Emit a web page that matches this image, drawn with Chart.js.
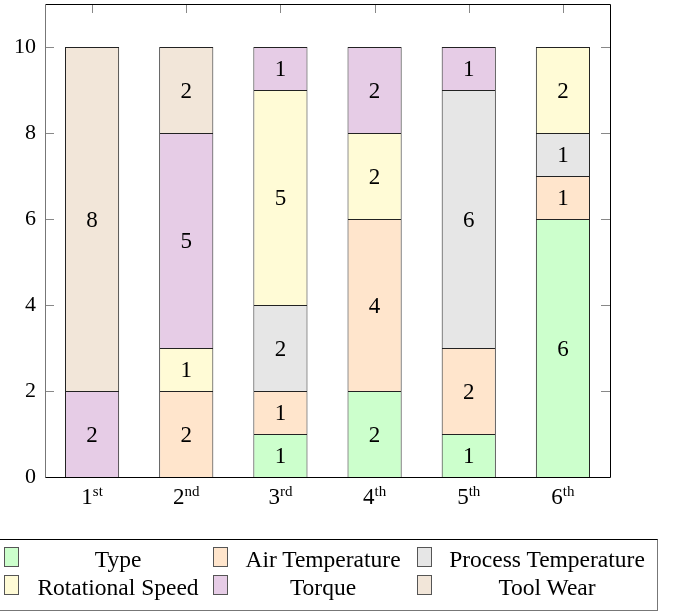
<!DOCTYPE html>
<html>
<head>
<meta charset="utf-8">
<script src="https://cdn.jsdelivr.net/npm/chart.js@4.4.0/dist/chart.umd.min.js"></script>
<style>
  body { margin: 0; background: #fff; }
  #wrap { position: relative; width: 678px; height: 612px; overflow: hidden; }
  #legend {
    position: absolute; left: -2px; top: 539px; width: 658px; height: 70px;
    border: 1px solid #000; border-right-color: #777; border-bottom-color: #777;
    font-family: 'Liberation Serif', serif; font-size: 23.5px; color: #000;
  }
  .sw { position: absolute; width: 13px; height: 18px; border: 1px solid #555; box-sizing: content-box; }
  .lb { position: absolute; line-height: 1; white-space: nowrap; transform: translateX(-50%); }
</style>
</head>
<body>
<div id="wrap">
  <canvas id="rankChart" width="678" height="612"></canvas>
  <div id="legend"></div>
</div>
<script>
// ranks of the features, counted over the 10 runs
const ranks = ['1st', '2nd', '3rd', '4th', '5th', '6th'];
const yTicks = [0, 2, 4, 6, 8, 10];

const typeCounts       = [null, null, 1, 2, 1, 6];
const airTempCounts    = [null, 2, 1, 4, 2, 1];
const processTempCounts= [null, null, 2, null, 6, 1];
const rotSpeedCounts   = [null, 1, 5, 2, null, 2];
const torqueCounts     = [2, 5, 1, 2, 1, null];
const toolWearCounts   = [8, 2, null, null, null, null];

const serif = "'Liberation Serif', serif";

function ds(label, data, color) {
    return {
        label: label,
        data: data,
        backgroundColor: color,
        borderColor: '#222',
        borderWidth: { top: 1, left: 1, right: 1, bottom: 0 },
        borderSkipped: false,
        barPercentage: 0.575,
        categoryPercentage: 1
    };
}

// numbers inside the bar segments
const segLabels = {
    id: 'segLabels',
    afterDatasetsDraw(chart) {
        const ctx = chart.ctx;
        ctx.save();
        ctx.font = '23px ' + serif;
        ctx.fillStyle = '#000';
        ctx.textAlign = 'center';
        ctx.textBaseline = 'alphabetic';
        chart.data.datasets.forEach((d, di) => {
            const meta = chart.getDatasetMeta(di);
            meta.data.forEach((el, i) => {
                const v = d.data[i];
                if (v === null) return;
                const yc = (el.y + el.base) / 2;
                ctx.fillText(String(v), el.x, yc + 7.8);
            });
        });
        ctx.restore();
    }
};

// inward ticks (drawn under the bars) + frame and x labels with superscripts
const frame = {
    id: 'frame',
    beforeDatasetsDraw(chart) {
        const { ctx, chartArea: a, scales } = chart;
        ctx.save();
        ctx.strokeStyle = '#888';
        ctx.lineWidth = 1;
        ctx.beginPath();
        yTicks.forEach(t => {
            const y = Math.round(scales.y.getPixelForValue(t)) + 0.5;
            ctx.moveTo(a.left, y); ctx.lineTo(a.left + 9, y);
            ctx.moveTo(a.right, y); ctx.lineTo(a.right - 9, y);
        });
        ranks.forEach((r, i) => {
            const x = Math.round(scales.x.getPixelForValue(i)) + 0.5;
            ctx.moveTo(x, a.top); ctx.lineTo(x, a.top + 9);
            ctx.moveTo(x, a.bottom); ctx.lineTo(x, a.bottom - 9);
        });
        ctx.stroke();
        ctx.restore();
    },
    afterDraw(chart) {
        const { ctx, chartArea: a, scales } = chart;
        const L = Math.round(a.left) + 0.5, R = Math.round(a.right) + 0.5;
        const T = Math.round(a.top) + 0.5, B = Math.round(a.bottom) + 0.5;
        ctx.save();
        ctx.lineWidth = 1;
        ctx.strokeStyle = '#000';
        ctx.beginPath();
        ctx.moveTo(L, T); ctx.lineTo(R, T); ctx.lineTo(R, B); ctx.lineTo(L, B);
        ctx.stroke();
        ctx.strokeStyle = '#777';
        ctx.beginPath();
        ctx.moveTo(L, T); ctx.lineTo(L, B);
        ctx.stroke();

        // x labels: digit + superscript suffix
        ctx.fillStyle = '#000';
        ctx.textBaseline = 'alphabetic';
        ctx.textAlign = 'left';
        ranks.forEach((r, i) => {
            const num = r.slice(0, 1), suf = r.slice(1);
            ctx.font = '23px ' + serif;
            const w1 = ctx.measureText(num).width;
            ctx.font = '15px ' + serif;
            const w2 = ctx.measureText(suf).width;
            const x0 = scales.x.getPixelForValue(i) - (w1 + w2) / 2;
            ctx.font = '23px ' + serif;
            ctx.fillText(num, x0, 504);
            ctx.font = '15px ' + serif;
            ctx.fillText(suf, x0 + w1, 496);
        });
        ctx.restore();
    }
};

const rankChart = new Chart('rankChart', {
    type: 'bar',
    data: {
        labels: ranks,
        datasets: [
            ds('Type', typeCounts, '#ccffcc'),
            ds('Air Temperature', airTempCounts, '#ffe5cc'),
            ds('Process Temperature', processTempCounts, '#e6e6e6'),
            ds('Rotational Speed', rotSpeedCounts, '#fffbd6'),
            ds('Torque', torqueCounts, '#e6cce6'),
            ds('Tool Wear', toolWearCounts, '#f2e6d9')
        ]
    },
    plugins: [segLabels, frame],
    options: {
        responsive: false,
        animation: false,
        layout: { padding: { top: 4, right: 68, bottom: 95, left: 0 } },
        scales: {
            x: {
                stacked: true,
                grid: { display: false },
                border: { display: false },
                ticks: { display: false },
                afterFit: s => { s.height = 40; s.paddingLeft = 0; s.paddingRight = 0; }
            },
            y: {
                stacked: true,
                min: 0,
                max: 11,
                grid: { display: false, drawTicks: false },
                border: { display: false },
                afterBuildTicks: s => { s.ticks = yTicks.map(v => ({ value: v })); },
                ticks: {
                    color: '#000',
                    padding: 9,
                    font: { family: serif, size: 22 }
                },
                afterFit: s => { s.width = 45; s.paddingTop = 0; s.paddingBottom = 0; }
            }
        },
        plugins: {
            legend: { display: false },
            tooltip: { enabled: false }
        }
    }
});

// legend box below the chart, built from the datasets
const swatchX = [5, 214, 418];
const textX = [119, 324, 548];
const rowTop = [7, 35];
const legend = document.getElementById('legend');
rankChart.data.datasets.forEach((d, i) => {
    const col = i % 3, row = Math.floor(i / 3);
    const sw = document.createElement('div');
    sw.className = 'sw';
    sw.style.left = swatchX[col] + 'px';
    sw.style.top = rowTop[row] + 'px';
    sw.style.background = d.backgroundColor;
    legend.appendChild(sw);
    const lb = document.createElement('div');
    lb.className = 'lb';
    lb.style.left = textX[col] + 'px';
    lb.style.top = (rowTop[row] + 1) + 'px';
    lb.textContent = d.label;
    legend.appendChild(lb);
});
</script>
</body>
</html>
